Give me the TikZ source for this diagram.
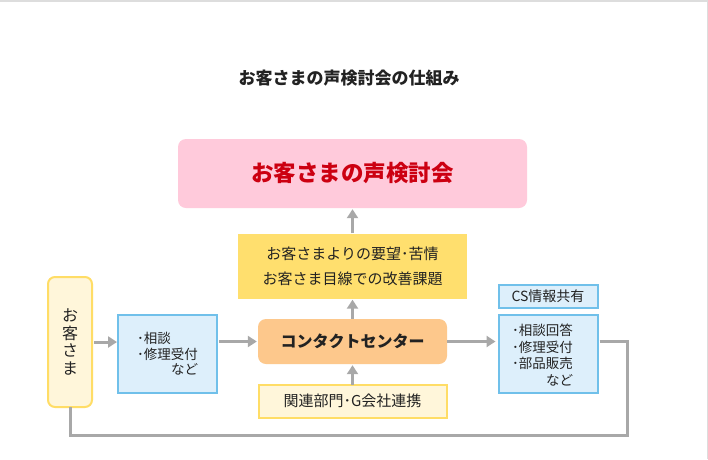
\documentclass[tikz,border=0pt]{standalone}
\usepackage{fontspec}
\setmainfont{Noto Sans CJK JP}
\usetikzlibrary{arrows.meta}
\definecolor{pinkbox}{HTML}{FFCADB}
\definecolor{redtxt}{HTML}{CC0011}
\definecolor{yellowbox}{HTML}{FFDF6E}
\definecolor{creamfill}{HTML}{FFF6DA}
\definecolor{creamline}{HTML}{FFDD66}
\definecolor{bluefill}{HTML}{DDEFFB}
\definecolor{blueline}{HTML}{70C0EA}
\definecolor{orangebox}{HTML}{FDC88C}
\definecolor{arrowgray}{HTML}{A8A8A8}
\definecolor{txt}{HTML}{222222}
\definecolor{framegray}{HTML}{DDDDDD}
\tikzset{
  flow/.style={draw=arrowgray, line width=3pt, -{Triangle[width=11pt,length=9pt]}},
  loopline/.style={draw=arrowgray, line width=3pt},
  bluebox/.style={draw=blueline, line width=2pt, fill=bluefill, inner sep=0pt},
  creambox/.style={draw=creamline, line width=2pt, fill=creamfill, inner sep=0pt},
}
\begin{document}
\begin{tikzpicture}[x=1pt,y=-1pt]
\useasboundingbox (0,0) rectangle (708,459);
\fill[white] (0,0) rectangle (708,459);
\draw[framegray, line width=1.5pt] (0,0.75) -- (707.25,0.75) -- (707.25,459);

\node[text=txt, font=\bfseries\fontsize{17}{19}\selectfont] (title) at (349,78) {お客さまの声検討会の仕組み};

\node[fill=pinkbox, rounded corners=8pt, minimum width=349pt, minimum height=69pt, inner sep=0pt,
      text=redtxt, font=\bfseries\fontsize{22.5}{25}\selectfont] (pink) at (352.5,173.5) {お客さまの声検討会};

\node[fill=yellowbox, minimum width=229pt, minimum height=65pt, inner sep=0pt, align=center,
      text=txt, font=\fontsize{15}{25}\selectfont] (yellow) at (352.5,266) {お客さまよりの要望･苦情\\お客さま目線での改善課題};

\node[creambox, rounded corners=7pt, minimum width=44pt, minimum height=130pt, align=center,
      text=txt, font=\fontsize{16}{17.5}\selectfont] (cust) at (70,342) {お\\客\\さ\\ま};

\node[bluebox, minimum height=78pt, text width=61pt, inner xsep=19pt, align=left,
      text=txt, font=\fontsize{13.5}{15.5}\selectfont] (blue1) at (167.5,354)
      {･相談\\･修理受付\\\hspace*{0pt plus 1filll}など};

\node[fill=orangebox, rounded corners=8pt, minimum width=189pt, minimum height=45pt, inner sep=0pt,
      text=txt, font=\bfseries\fontsize{16}{18}\selectfont] (contact) at (352.5,341.5) {コンタクトセンター};

\node[creambox, minimum width=188pt, minimum height=33pt,
      text=txt, font=\fontsize{15}{17}\selectfont] (rel) at (352.5,401) {関連部門･G会社連携};

\node[bluebox, minimum width=99pt, minimum height=23pt,
      text=txt, font=\fontsize{14}{16}\selectfont] (cs) at (548,296.5) {CS情報共有};

\node[bluebox, minimum width=99pt, minimum height=78pt] (blue2) at (548,354) {};
\node[text width=61pt, inner sep=0pt, align=left, text=txt, font=\fontsize{13.5}{16.7}\selectfont]
      (blue2text) at (542.5,355) {･相談回答\\･修理受付\\･部品販売\\\hspace*{0pt plus 1filll}など};

\draw[flow] (yellow.north) -- ([yshift=-1pt]pink.south);
\draw[flow] (contact.north) -- ([yshift=-1pt]yellow.south);
\draw[flow] ([yshift=-1pt]rel.north) -- ([yshift=-1pt]contact.south);
\draw[flow] ([xshift=1pt]cust.east) -- (cust.east -| blue1.west);
\draw[flow] ([xshift=1pt]contact.west -| blue1.east) -- ([xshift=-1pt]contact.west);
\draw[flow] (contact.east) -- ([xshift=-2pt]contact.east -| blue2.west);
\draw[loopline] ([xshift=1pt]contact.east -| blue2.east) -- ++(28,0) coordinate (fb1)
      -- (fb1 |- 0,435) coordinate (fb2) -- (fb2 -| cust.south) -- ([yshift=1pt]cust.south);
\end{tikzpicture}
\end{document}
